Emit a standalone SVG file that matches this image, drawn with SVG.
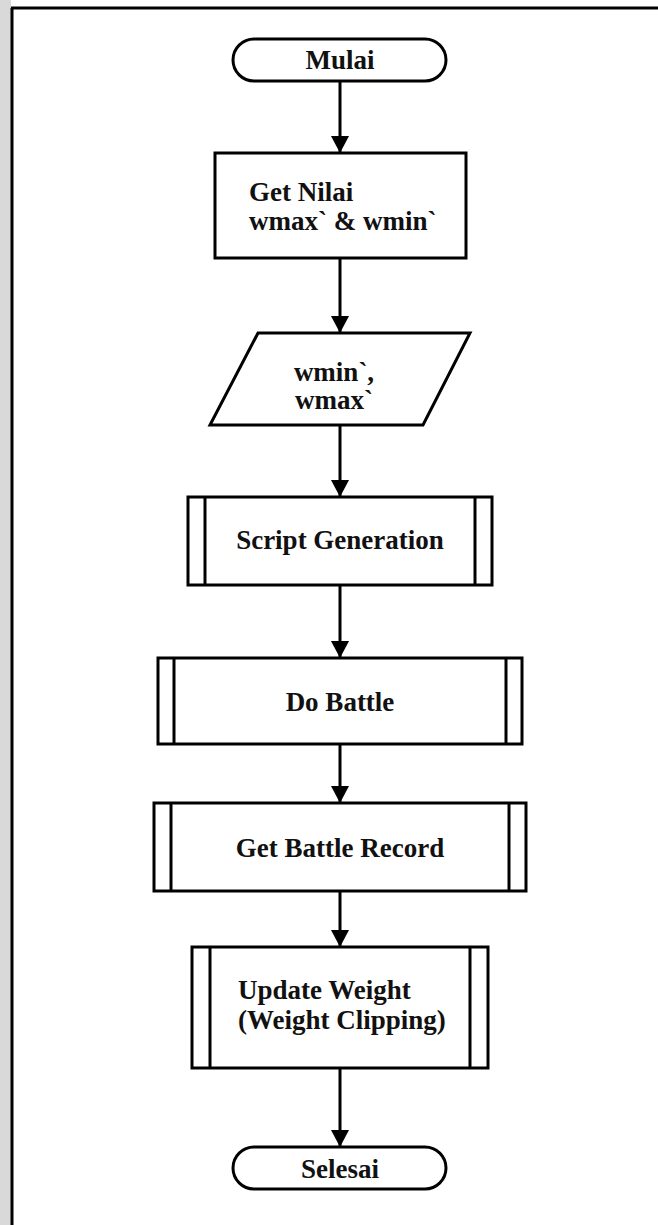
<svg xmlns="http://www.w3.org/2000/svg" width="658" height="1225" viewBox="0 0 658 1225">
  <defs>
    <style>
      .shape { fill: #ffffff; stroke: #000000; stroke-width: 3; }
      .inner { stroke: #000000; stroke-width: 3; }
      .conn { stroke: #000000; stroke-width: 3; fill: none; }
      .lbl { font-family: "Liberation Serif", "Times New Roman", serif; font-weight: bold; font-size: 27px; fill: #111111; }
      .mid { text-anchor: middle; }
    </style>
    <marker id="arrow" markerUnits="userSpaceOnUse" markerWidth="18" markerHeight="18" viewBox="0 0 18 18" refX="17" refY="9" orient="auto">
      <path d="M0,0 L17,9 L0,18 Z" fill="#000000"/>
    </marker>
  </defs>

  <rect x="0" y="0" width="658" height="1225" fill="#ffffff"/>
  <rect x="0" y="0" width="11" height="1225" fill="#d9d9d9"/>
  <g id="frame">
    <line x1="12" y1="8" x2="12" y2="1225" stroke="#000" stroke-width="3"/>
    <line x1="11" y1="8" x2="658" y2="8" stroke="#000" stroke-width="3"/>
  </g>

  <g id="connectors">
    <line class="conn" x1="340" y1="81" x2="340" y2="153" marker-end="url(#arrow)"/>
    <line class="conn" x1="340" y1="258" x2="340" y2="333" marker-end="url(#arrow)"/>
    <line class="conn" x1="340" y1="425" x2="340" y2="497" marker-end="url(#arrow)"/>
    <line class="conn" x1="340" y1="585" x2="340" y2="658" marker-end="url(#arrow)"/>
    <line class="conn" x1="340" y1="744" x2="340" y2="803" marker-end="url(#arrow)"/>
    <line class="conn" x1="340" y1="891" x2="340" y2="947" marker-end="url(#arrow)"/>
    <line class="conn" x1="340" y1="1068" x2="340" y2="1147" marker-end="url(#arrow)"/>
  </g>

  <g id="mulai">
    <rect class="shape" x="233" y="39" width="213" height="42" rx="21" ry="21"/>
    <text class="lbl mid" x="340" y="69">Mulai</text>
  </g>

  <g id="get-nilai">
    <rect class="shape" x="215" y="153" width="251" height="105"/>
    <text class="lbl" x="249" y="201">Get Nilai</text>
    <text class="lbl" x="249" y="230">wmax` &amp; wmin`</text>
  </g>

  <g id="input-w">
    <polygon class="shape" points="258,333 470,333 423,425 210,425"/>
    <text class="lbl mid" x="334" y="381">wmin`,</text>
    <text class="lbl mid" x="334" y="409">wmax`</text>
  </g>

  <g id="script-generation">
    <rect class="shape" x="188" y="497" width="304" height="88"/>
    <line class="inner" x1="205" y1="497" x2="205" y2="585"/>
    <line class="inner" x1="475" y1="497" x2="475" y2="585"/>
    <text class="lbl mid" x="340" y="549">Script Generation</text>
  </g>

  <g id="do-battle">
    <rect class="shape" x="158" y="658" width="364" height="86"/>
    <line class="inner" x1="174" y1="658" x2="174" y2="744"/>
    <line class="inner" x1="506" y1="658" x2="506" y2="744"/>
    <text class="lbl mid" x="340" y="711">Do Battle</text>
  </g>

  <g id="get-battle-record">
    <rect class="shape" x="154" y="803" width="372" height="88"/>
    <line class="inner" x1="171" y1="803" x2="171" y2="891"/>
    <line class="inner" x1="509" y1="803" x2="509" y2="891"/>
    <text class="lbl mid" x="340" y="857">Get Battle Record</text>
  </g>

  <g id="update-weight">
    <rect class="shape" x="192" y="947" width="296" height="121"/>
    <line class="inner" x1="210" y1="947" x2="210" y2="1068"/>
    <line class="inner" x1="470" y1="947" x2="470" y2="1068"/>
    <text class="lbl" x="238" y="999">Update Weight</text>
    <text class="lbl" x="238" y="1029">(Weight Clipping)</text>
  </g>

  <g id="selesai">
    <rect class="shape" x="233" y="1147" width="213" height="42" rx="21" ry="21"/>
    <text class="lbl mid" x="340" y="1178">Selesai</text>
  </g>
</svg>
